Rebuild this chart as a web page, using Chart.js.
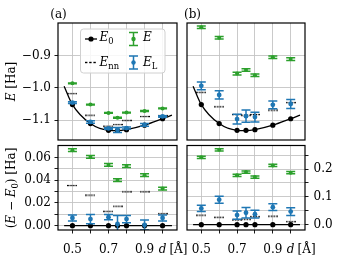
<!DOCTYPE html>
<html><head><meta charset="utf-8">
<script src="https://cdn.jsdelivr.net/npm/chart.js@4.4.0/dist/chart.umd.min.js"></script>
<style>
html,body{margin:0;padding:0;background:#fff;}
#wrap{position:relative;width:339px;height:256px;overflow:hidden;background:#fff;}
canvas{position:absolute;left:0;top:0;}
</style></head><body>
<div id="wrap">
<canvas id="c1" width="339" height="256"></canvas>
<canvas id="c2" width="339" height="256"></canvas>
<canvas id="c3" width="339" height="256"></canvas>
<canvas id="c4" width="339" height="256"></canvas>
</div>
<script>
// ---------- data ----------
const d = [0.5, 0.6, 0.7, 0.75, 0.8, 0.9, 1.0];
const xTicks = [0.5, 0.6, 0.7, 0.8, 0.9, 1.0];
const xTickLabels = ['0.5', '', '0.7', '', '0.9', 'd'];

// fitted E0 curve (top panels) and zero line (bottom panels)
const curveD = [0.454, 0.5, 0.6, 0.7, 0.75, 0.8, 0.9, 1.0, 1.052];
const curveE = [-0.995, -1.052, -1.111, -1.132, -1.133, -1.130, -1.116, -1.096, -1.085];
const zeroD = [0.454, 1.052];
const zeroY = [0, 0];

const E0 = [-1.052, -1.111, -1.132, -1.132, -1.130, -1.116, -1.096];
const E0diff = [0, 0, 0, 0, 0, 0, 0];

// panel (a), top
const aE = [-0.986, -1.052, -1.078, -1.093, -1.077, -1.072, -1.064];
const aEerr = [0.0012, 0.0012, 0.0012, 0.0012, 0.0012, 0.0012, 0.0012];
const aEL = [-1.046, -1.106, -1.126, -1.131, -1.125, -1.115, -1.089];
const aELerr = [0.0026, 0.004, 0.0023, 0.0075, 0.0032, 0.0044, 0.0026];
const aEnn = [-1.018, -1.085, -1.119, -1.114, -1.101, -1.089, -1.086];
// panel (a), bottom (E - E0)
const aDE = [0.0665, 0.0605, 0.0535, 0.0402, 0.0525, 0.0445, 0.0327];
const aDEerr = [0.0012, 0.0012, 0.0012, 0.0012, 0.0012, 0.0012, 0.0012];
const aDEL = [0.0068, 0.0058, 0.0075, 0.0015, 0.0058, 0.0006, 0.0068];
const aDELerr = [0.0026, 0.004, 0.0023, 0.0075, 0.0032, 0.0044, 0.0026];
const aDEnn = [0.0354, 0.027, 0.0127, 0.0172, 0.0298, 0.0298, 0.0106];

// panel (b), top
const bE = [-0.812, -0.845, -0.956, -0.945, -0.961, -0.905, -0.911];
const bEerr = [0.004, 0.004, 0.004, 0.004, 0.004, 0.004, 0.004];
const bEL = [-0.994, -1.022, -1.097, -1.088, -1.091, -1.053, -1.050];
const bELerr = [0.012, 0.0125, 0.015, 0.019, 0.015, 0.012, 0.014];
const bEnn = [-1.014, -1.059, -1.083, -1.085, -1.083, -1.069, -1.046];
// panel (b), bottom (E - E0)
const bDE = [0.242, 0.269, 0.1775, 0.189, 0.171, 0.213, 0.187];
const bDEerr = [0.004, 0.004, 0.004, 0.004, 0.004, 0.004, 0.004];
const bDEL = [0.0586, 0.090, 0.0346, 0.043, 0.038, 0.063, 0.047];
const bDELerr = [0.011, 0.0125, 0.015, 0.019, 0.014, 0.012, 0.014];
const bDEnn = [0.0346, 0.027, 0.017, 0.020, 0.0286, 0.031, 0.011];

// y ticks
const topTicks = [-1.1, -1.0, -0.9];
const blTicks = [0, 0.01, 0.02, 0.03, 0.04, 0.05, 0.06];
const brTicks = [0, 0.05, 0.1, 0.15, 0.2, 0.25];

// ---------- style ----------
const FONT = "'DejaVu Serif', serif";
const FS = 12;
const XPAD = 9;
const GREEN = '#2ca02c';
const BLUE = '#1f77b4';
const GRID = '#c4c4c4';

const dashImg = (() => {
  const c = document.createElement('canvas');
  c.width = 10; c.height = 3;
  const g = c.getContext('2d');
  g.fillStyle = '#000';
  for (let i = 0; i < 4; i++) g.fillRect(i * 2.75, 0.9, 1.75, 1.3);
  return c;
})();

function pts(xs, ys) { return xs.map((x, i) => ({x: x, y: ys[i]})); }

function datasets(cx, cy, e0, enn, e, eerr, el, elerr) {
  return [
    {data: pts(cx, cy), showLine: true, borderColor: '#000', borderWidth: 1.3, pointRadius: 0,
     cubicInterpolationMode: 'monotone', order: 5},
    {data: pts(d, e0), pointRadius: 2.6, backgroundColor: '#000', borderWidth: 0, order: 4},
    {data: pts(d, enn), pointStyle: dashImg, pointRadius: 5, order: 3},
    {data: pts(d, e), pointRadius: 2, backgroundColor: GREEN, borderWidth: 0, errY: eerr, errColor: GREEN, order: 2},
    {data: pts(d, el), pointRadius: 2.4, backgroundColor: BLUE, borderWidth: 0, errY: elerr, errColor: BLUE, order: 1}
  ];
}

function segW(ctx, segs, size) {
  let w = 0;
  for (const s of segs) {
    const sz = s.sub ? size * 0.7 : size;
    ctx.font = (s.it ? 'italic ' : '') + sz + 'px ' + FONT;
    w += ctx.measureText(s.t).width;
  }
  return w;
}
function drawSegs(ctx, segs, x, y, size) {
  for (const s of segs) {
    const sz = s.sub ? size * 0.7 : size;
    ctx.font = (s.it ? 'italic ' : '') + sz + 'px ' + FONT;
    ctx.fillText(s.t, x, y + (s.sub ? size * 0.25 : 0));
    x += ctx.measureText(s.t).width;
  }
  return x;
}

const errPlugin = {
  id: 'errbars',
  beforeDatasetDraw(chart, args) {
    const ds = chart.data.datasets[args.index];
    if (!ds.errY) return;
    const ctx = chart.ctx, ys = chart.scales.y, a = chart.chartArea;
    ctx.save();
    ctx.beginPath(); ctx.rect(a.left, a.top, a.right - a.left, a.bottom - a.top); ctx.clip();
    ctx.strokeStyle = ds.errColor; ctx.lineWidth = 1.5;
    args.meta.data.forEach((p, i) => {
      const v = ds.data[i].y, e = ds.errY[i];
      const y1 = ys.getPixelForValue(v + e), y0 = ys.getPixelForValue(v - e);
      ctx.beginPath();
      ctx.moveTo(p.x, y0); ctx.lineTo(p.x, y1);
      ctx.moveTo(p.x - 4.5, y0); ctx.lineTo(p.x + 4.5, y0);
      ctx.moveTo(p.x - 4.5, y1); ctx.lineTo(p.x + 4.5, y1);
      ctx.stroke();
    });
    ctx.restore();
  }
};

const framePlugin = {
  id: 'frame',
  afterDatasetsDraw(chart) {
    const ctx = chart.ctx, a = chart.chartArea;
    ctx.save();
    ctx.strokeStyle = '#000'; ctx.lineWidth = 1.2;
    ctx.strokeRect(a.left, a.top, a.right - a.left, a.bottom - a.top);
    ctx.restore();
  }
};

// extra texts
const textPlugin = {
  id: 'texts',
  afterDraw(chart) {
    const o = chart.options.plugins.texts || {};
    const ctx = chart.ctx;
    ctx.save();
    ctx.fillStyle = '#000';
    ctx.textBaseline = 'alphabetic';
    if (o.panel) {
      ctx.font = FS + 'px ' + FONT;
      ctx.textAlign = 'center';
      ctx.fillText(o.panel[0], o.panel[1], o.panel[2]);
      ctx.textAlign = 'left';
    }
    if (o.ytitle) {
      const w = segW(ctx, o.ytitle, FS);
      ctx.translate(o.ytitlePos[0], o.ytitlePos[1]);
      ctx.rotate(-Math.PI / 2);
      drawSegs(ctx, o.ytitle, -w / 2, 4, FS);
      ctx.setTransform(1, 0, 0, 1, 0, 0);
    }
    if (o.unit) {
      const xs = chart.scales.x;
      const px = xs.getPixelForValue(1.0);
      ctx.font = 'italic ' + FS + 'px ' + FONT;
      const dw = ctx.measureText('d').width;
      ctx.font = FS + 'px ' + FONT;
      ctx.textBaseline = 'middle';
      ctx.fillText('[Å]', px + dw / 2 + 3, xs.top + 3.5 + XPAD + FS * 0.6);
      ctx.textBaseline = 'alphabetic';
    }
    if (o.legend) {
      // box
      const bx = 80.5, by = 29, bw = 84.5, bh = 44, r = 3;
      ctx.beginPath();
      ctx.moveTo(bx + r, by); ctx.lineTo(bx + bw - r, by); ctx.arcTo(bx + bw, by, bx + bw, by + r, r);
      ctx.lineTo(bx + bw, by + bh - r); ctx.arcTo(bx + bw, by + bh, bx + bw - r, by + bh, r);
      ctx.lineTo(bx + r, by + bh); ctx.arcTo(bx, by + bh, bx, by + bh - r, r);
      ctx.lineTo(bx, by + r); ctx.arcTo(bx, by, bx + r, by, r);
      ctx.closePath();
      ctx.fillStyle = 'rgba(255,255,255,0.85)'; ctx.fill();
      ctx.strokeStyle = '#d0d0d0'; ctx.lineWidth = 1; ctx.stroke();
      const r1 = 39, r2 = 62.5;
      // E0
      ctx.strokeStyle = '#000'; ctx.lineWidth = 1.3;
      ctx.beginPath(); ctx.moveTo(85, r1); ctx.lineTo(97, r1); ctx.stroke();
      ctx.fillStyle = '#000';
      ctx.beginPath(); ctx.arc(91, r1, 2.6, 0, Math.PI * 2); ctx.fill();
      drawSegs(ctx, [{t: 'E', it: true}, {t: '0', sub: true}], 99.5, r1 + 2, FS);
      // Enn
      ctx.fillStyle = '#000';
      for (let i = 0; i < 3; i++) ctx.fillRect(85 + i * 4.2, r2 - 0.7, 2.4, 1.4);
      drawSegs(ctx, [{t: 'E', it: true}, {t: 'nn', sub: true}], 99.5, r2 + 3, FS);
      // E and EL errorbar handles
      [[r1, GREEN, 'E', null], [r2, BLUE, 'E', 'L']].forEach(([ry, col, t, sub]) => {
        const hx = 133.5;
        ctx.strokeStyle = col; ctx.lineWidth = 1.5;
        ctx.beginPath();
        ctx.moveTo(hx, ry - 6.5); ctx.lineTo(hx, ry + 6.5);
        ctx.moveTo(hx - 4.5, ry - 6.5); ctx.lineTo(hx + 4.5, ry - 6.5);
        ctx.moveTo(hx - 4.5, ry + 6.5); ctx.lineTo(hx + 4.5, ry + 6.5);
        ctx.stroke();
        ctx.fillStyle = col;
        ctx.beginPath(); ctx.arc(hx, ry, 2.2, 0, Math.PI * 2); ctx.fill();
        ctx.fillStyle = '#000';
        const segs = [{t: t, it: true}];
        if (sub) segs.push({t: sub, sub: true});
        drawSegs(ctx, segs, 143, ry + (sub ? 3 : 2), FS);
      });
    }
    ctx.restore();
  }
};

function xScale(show) {
  return {
    type: 'linear', min: 0.42, max: 1.08,
    afterBuildTicks: s => { s.ticks = xTicks.map(v => ({value: v})); },
    ticks: {
      display: show, autoSkip: false, maxRotation: 0, minRotation: 0, padding: XPAD, color: '#000',
      callback: (v, i) => xTickLabels[i],
      font: c => ({family: FONT, size: FS, style: (c.tick && Math.abs(c.tick.value - 1.0) < 1e-9) ? 'italic' : 'normal'})
    },
    grid: {color: GRID, lineWidth: 0.9, drawTicks: show, tickLength: 3.5, tickColor: '#000', tickWidth: 0.9},
    border: {display: false},
    afterFit: s => { s.height = show ? 26 : 0; }
  };
}

function yScale(min, max, ticks, labelFn, show, position, width) {
  return {
    type: 'linear', min: min, max: max, position: position,
    afterBuildTicks: s => { s.ticks = ticks.map(v => ({value: v})); },
    ticks: {
      display: show, autoSkip: false, padding: position === 'right' ? 5 : 3.5, color: '#000',
      font: {family: FONT, size: FS},
      callback: (v, i) => labelFn(ticks[i])
    },
    grid: {color: GRID, lineWidth: 0.9, drawTicks: show, tickLength: 3.5, tickColor: '#000', tickWidth: 0.9},
    border: {display: false},
    afterFit: s => { s.width = width; }
  };
}

const minus = v => (v < 0 ? '\u2212' : '') + Math.abs(v).toFixed(1);
const lbl2 = v => (Math.round(v * 100) % 2 === 0) ? v.toFixed(2) : '';
const lbl1 = v => (Math.round(v * 100) % 10 === 0) ? v.toFixed(1) : '';

function make(id, ds, scales, padding, texts) {
  return new Chart(document.getElementById(id), {
    type: 'scatter',
    data: {datasets: ds},
    options: {
      responsive: false, animation: false, devicePixelRatio: 1,
      layout: {padding: padding},
      scales: scales,
      plugins: {legend: {display: false}, tooltip: {enabled: false}, texts: texts},
      elements: {point: {hoverRadius: 0}}
    },
    plugins: [errPlugin, framePlugin, textPlugin]
  });
}

// (a) top
make('c1',
  datasets(curveD, curveE, E0, aEnn, aE, aEerr, aEL, aELerr),
  {x: xScale(false), y: yScale(-1.162, -0.799, topTicks, minus, true, 'left', 58)},
  {left: 0, top: 23, right: 162, bottom: 116},
  {panel: ['(a)', 58.5, 18], legend: true,
   ytitle: [{t: 'E', it: true}, {t: ' [Ha]'}], ytitlePos: [11, 81.5]});

// (b) top
make('c2',
  datasets(curveD, curveE, E0, bEnn, bE, bEerr, bEL, bELerr),
  {x: xScale(false), y: yScale(-1.162, -0.799, topTicks, minus, false, 'left', 0)},
  {left: 187, top: 23, right: 34, bottom: 116},
  {panel: ['(b)', 192.5, 18]});

// (a) bottom
make('c3',
  datasets(zeroD, zeroY, E0diff, aDEnn, aDE, aDEerr, aDEL, aDELerr),
  {x: xScale(true), y: yScale(-0.0038, 0.0706, blTicks, lbl2, true, 'left', 58)},
  {left: 0, top: 145.5, right: 162, bottom: 0},
  {unit: true,
   ytitle: [{t: '('}, {t: 'E', it: true}, {t: ' \u2212 '}, {t: 'E', it: true}, {t: '0', sub: true}, {t: ') [Ha]'}],
   ytitlePos: [11, 188]});

// (b) bottom
make('c4',
  datasets(zeroD, zeroY, E0diff, bDEnn, bDE, bDEerr, bDEL, bDELerr),
  {x: xScale(true), y: yScale(-0.019, 0.2845, brTicks, lbl1, true, 'right', 34)},
  {left: 187, top: 145.5, right: 0, bottom: 0},
  {unit: true});
</script>
</body></html>
